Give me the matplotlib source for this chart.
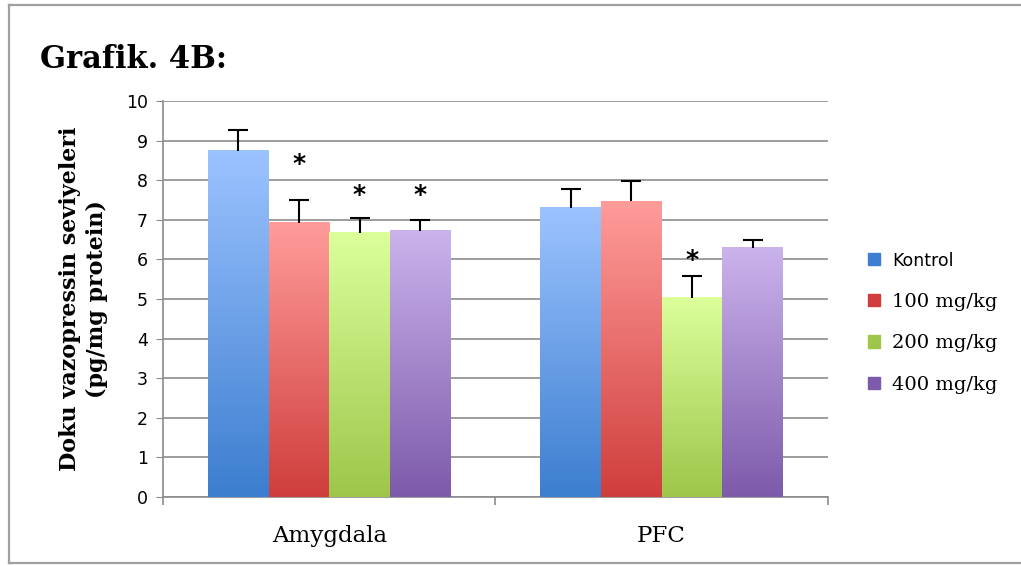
import numpy as np
import matplotlib.pyplot as plt
from matplotlib.colors import LinearSegmentedColormap
from matplotlib.lines import Line2D
from matplotlib.patches import Rectangle

# data
regions = ['Amygdala', 'PFC']
groups = ['Kontrol', '100 mg/kg', '200 mg/kg', '400 mg/kg']
means = [[8.74, 7.30],
         [6.92, 7.47],
         [6.67, 5.03],
         [6.72, 6.29]]
errs = [[0.53, 0.48],
        [0.58, 0.52],
        [0.38, 0.55],
        [0.28, 0.20]]
# significance stars (group index, region index, y)
stars = [(1, 0, 8.42), (2, 0, 7.62), (3, 0, 7.62), (2, 1, 5.98)]

# gradient colours (top, bottom)
grad = [('#9cc3ff', '#3c7ecf'),
        ('#ff9c9a', '#cf3e3c'),
        ('#dcff9c', '#9dc64a'),
        ('#cbb3ec', '#7d5aaa')]

fig = plt.figure(figsize=(10.21, 5.66), dpi=100)
ax = fig.add_axes([0.1597, 0.1219, 0.651, 0.6997])

# outer gray frame (no right edge visible)
fig.add_artist(Line2D([9/1021, 9/1021], [1-5/566, 1-563/566], color='#a0a0a0', lw=1.6, transform=fig.transFigure))
fig.add_artist(Line2D([9/1021, 1.0], [1-5/566, 1-5/566], color='#a0a0a0', lw=1.6, transform=fig.transFigure))
fig.add_artist(Line2D([9/1021, 1.0], [1-563/566, 1-563/566], color='#a0a0a0', lw=1.6, transform=fig.transFigure))

x = np.arange(len(regions))
w = 0.1825
grad_img = np.linspace(0, 1, 256).reshape(-1, 1)
for i, g in enumerate(groups):
    pos = x + (i - 1.5) * w
    bars = ax.bar(pos, means[i], w, color='none', edgecolor='none', zorder=3)
    cmap = LinearSegmentedColormap.from_list('g%d' % i, [grad[i][1], grad[i][0]])
    for b in bars:
        bx, bw, bh = b.get_x(), b.get_width(), b.get_height()
        ax.imshow(grad_img, extent=[bx, bx + bw, 0, bh], origin='lower',
                  cmap=cmap, aspect='auto', zorder=3)
    eb = ax.errorbar(pos, means[i], yerr=[np.zeros(len(regions)), errs[i]], fmt='none',
                     ecolor='black', elinewidth=1.5, capsize=7, capthick=1.5, zorder=4)
    eb[1][0].set_visible(False)
    ax.add_patch(Rectangle((0, 0), 0, 0, color=grad[i][1], label=g))

for gi, ri, yy in stars:
    ax.text(x[ri] + (gi - 1.5) * w, yy, '*', ha='center', va='center',
            fontsize=18, fontweight='bold', family='DejaVu Sans', zorder=5)

ax.set_xlim(-0.5, 1.5)
ax.set_ylim(0, 10)
ax.set_yticks(range(0, 11))
ax.yaxis.grid(True, color='#8c8c8c', lw=1.2)
ax.set_axisbelow(True)
for s in ['top', 'right']:
    ax.spines[s].set_visible(False)
ax.spines['left'].set_color('#8c8c8c')
ax.spines['bottom'].set_color('#8c8c8c')
ax.spines['left'].set_linewidth(1.2)
ax.spines['bottom'].set_linewidth(1.2)
ax.tick_params(axis='y', length=5, color='#8c8c8c', labelsize=12.5, pad=6)
ax.set_xticks([-0.5, 0.5, 1.5])
ax.set_xticklabels([])
ax.set_xticks(x, minor=True)
ax.set_xticklabels(regions, minor=True, family='DejaVu Serif', fontsize=16.5)
ax.tick_params(axis='x', which='major', length=6, color='#8c8c8c', width=1.2)
ax.tick_params(axis='x', which='minor', length=0, pad=20)

ax.set_ylabel('Doku vazopressin seviyeleri\n(pg/mg protein)', family='DejaVu Serif',
              fontsize=16, fontweight='bold', labelpad=13, linespacing=1.25)
fig.text(40/1021, 1-60/566, 'Grafik. 4B:', family='DejaVu Serif', fontsize=22,
         fontweight='bold', va='center')

leg = ax.legend(loc='center left', bbox_to_anchor=(1.035, 0.44), frameon=False,
                handlelength=0.6, handleheight=0.6, handletextpad=0.6, labelspacing=1.2,
                prop={'family': 'DejaVu Serif', 'size': 14})
plt.setp(leg.get_texts()[0], family='DejaVu Sans', fontsize=12.5)

plt.savefig('out.png', dpi=100)
